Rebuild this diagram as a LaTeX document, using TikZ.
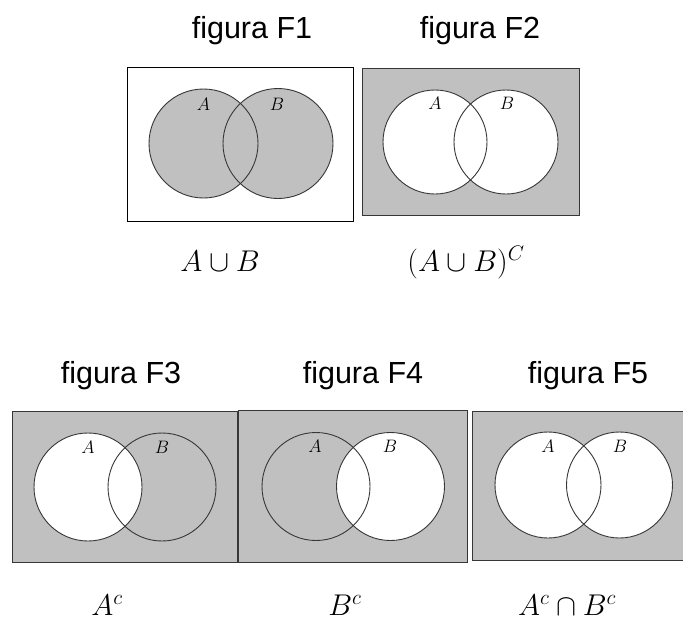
\RequirePackage{fix-cm}
\documentclass[tikz,border=0pt]{standalone}
\usepackage{fontspec}
\newfontfamily\titlefont{Liberation Sans}
\definecolor{vgray}{RGB}{192,192,192}
\definecolor{vedge}{RGB}{55,55,55}
\begin{document}
\begin{tikzpicture}[x=1pt,y=-1pt,
  frame/.style={draw=vedge,line width=0.9pt},
  ring/.style={draw=vedge,line width=0.9pt},
  shade/.style={fill=vgray},
  blank/.style={fill=white},
  title/.style={anchor=base,inner sep=0pt,font=\titlefont\fontsize{30.5}{36}\selectfont},
  formula/.style={anchor=base,inner sep=0pt,font=\fontsize{30}{36}\selectfont},
  setlabel/.style={anchor=base,inner sep=0pt,font=\fontsize{18}{21}\selectfont}]
\useasboundingbox (0,0) rectangle (683,621);

% ---------- F1 : A union B ----------
\draw[frame,draw=black,fill=white] (127,67) rectangle (353,221);
\fill[shade] (203.5,143.5) circle[radius=54.5];
\fill[shade] (278,143.5) circle[radius=55];
\draw[ring] (203.5,143.5) circle[radius=54.5];
\draw[ring] (278,143.5) circle[radius=55];
\node[setlabel] (a1) at (203.5,110) {$A$};
\node[setlabel] (b1) at (277,110) {$B$};
\node[title] (t1) at (252,38) {figura F1};
\node[formula] (f1) at (220,271) {$A\cup B$};

% ---------- F2 : (A union B)^C ----------
\draw[frame,fill=vgray] (362,68) rectangle (579,215);
\fill[blank] (435,142) circle[radius=52];
\fill[blank] (506,142) circle[radius=52];
\draw[ring] (435,142) circle[radius=52];
\draw[ring] (506,142) circle[radius=52];
\node[setlabel] (a2) at (435,109) {$A$};
\node[setlabel] (b2) at (507,109) {$B$};
\node[title] (t2) at (480,38) {figura F2};
\node[formula] (f2) at (466,271) {$(A\cup B)^C$};

% ---------- F3 : A^c ----------
\draw[frame,fill=vgray] (12,411) rectangle (237,562);
\fill[blank] (88,487) circle[radius=54];
\draw[ring] (88,487) circle[radius=54];
\draw[ring] (162,487) circle[radius=54];
\node[setlabel] (a3) at (88,453) {$A$};
\node[setlabel] (b3) at (162,453) {$B$};
\node[title] (t3) at (121,383) {figura F3};
\node[formula] (f3) at (107,615) {$A^c$};

% ---------- F4 : B^c ----------
\draw[frame,fill=vgray] (238,410) rectangle (467,562);
\fill[blank] (390.5,486.5) circle[radius=54];
\draw[ring] (316,486.5) circle[radius=54];
\draw[ring] (390.5,486.5) circle[radius=54];
\node[setlabel] (a4) at (315,452) {$A$};
\node[setlabel] (b4) at (390,452) {$B$};
\node[title] (t4) at (363,383) {figura F4};
\node[formula] (f4) at (345,615) {$B^c$};

% ---------- F5 : A^c cap B^c ----------
\draw[frame,fill=vgray] (472,411) rectangle (683.5,560);
\fill[blank] (548,485) circle[radius=53];
\fill[blank] (619.5,485) circle[radius=53];
\draw[ring] (548,485) circle[radius=53];
\draw[ring] (619.5,485) circle[radius=53];
\node[setlabel] (a5) at (548,452) {$A$};
\node[setlabel] (b5) at (620,452) {$B$};
\node[title] (t5) at (588,383) {figura F5};
\node[formula] (f5) at (567,615) {$A^c\cap B^c$};
\end{tikzpicture}
\end{document}
